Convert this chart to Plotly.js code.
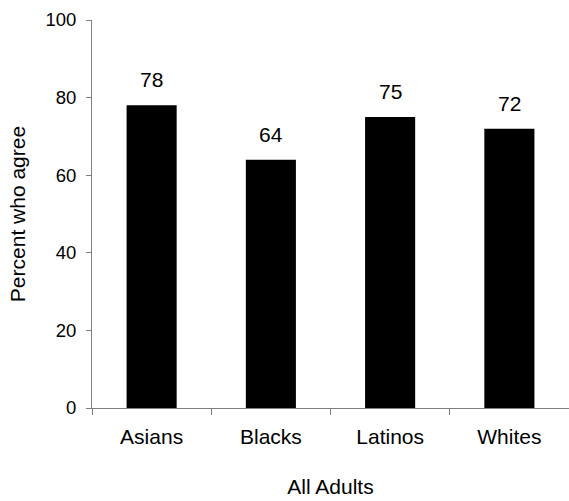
<!DOCTYPE html>
<html>
<head>
<meta charset="utf-8">
<script src="https://cdn.plot.ly/plotly-3.0.1.min.js"></script>
<style>html,body{margin:0;padding:0;background:#fff;}#chart{width:569px;height:501px;}</style>
</head>
<body>
<div id="chart"></div>
<script>
var categories = ["Asians", "Blacks", "Latinos", "Whites"];
var values = [78, 64, 75, 72];
var yTicks = [0, 20, 40, 60, 80, 100];

var family = "Liberation Sans, Arial, sans-serif";
var font = {family: family, size: 21, color: "#000"};
var yTickFont = {family: family, size: 18.5, color: "#000"};

var trace = {
  type: "bar",
  x: categories,
  y: values,
  marker: {color: "#000000", line: {width: 0}},
  width: 0.42,
  hoverinfo: "x+y"
};

var annotations = categories.map(function (c, i) {
  return {
    x: c, y: values[i], xref: "x", yref: "y",
    text: String(values[i]), showarrow: false,
    yanchor: "bottom", yshift: 12,
    font: font
  };
});

var layout = {
  width: 569, height: 501,
  margin: {l: 92, r: 0, t: 19.5, b: 93},
  paper_bgcolor: "#fff", plot_bgcolor: "#fff",
  font: font,
  showlegend: false,
  xaxis: {
    type: "category",
    range: [-0.5, 3.5],
    showline: true, linecolor: "#808080", linewidth: 1,
    ticks: "outside", tickson: "boundaries", ticklen: 6, tickcolor: "#808080",
    showgrid: false, zeroline: false,
    tickfont: font,
    ticklabelstandoff: 10,
    title: {text: "All Adults", font: font, standoff: 32}
  },
  yaxis: {
    range: [0, 100],
    tickvals: yTicks,
    showline: true, linecolor: "#808080", linewidth: 1,
    ticks: "outside", ticklen: 5, tickcolor: "#808080",
    showgrid: false, zeroline: false,
    tickfont: yTickFont,
    ticklabelstandoff: 6,
    title: {text: "Percent who agree", font: font, standoff: 14}
  },
  annotations: annotations
};

Plotly.newPlot("chart", [trace], layout, {displayModeBar: false, staticPlot: true});
</script>
</body>
</html>
